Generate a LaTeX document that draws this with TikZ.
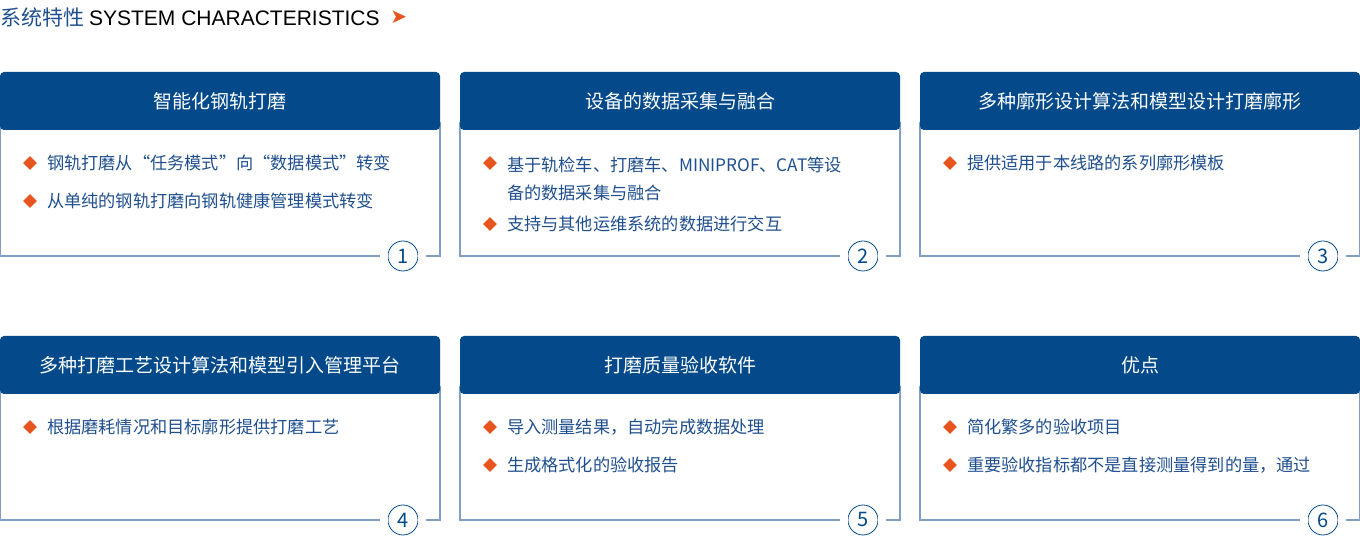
\documentclass[tikz,border=0pt]{standalone}
\usepackage{fontspec}
\setmainfont{Noto Sans CJK SC}
\usepackage{tikz}
\usetikzlibrary{shapes.geometric}
\definecolor{hdblue}{HTML}{044A8A}
\definecolor{txblue}{HTML}{1F4F8E}
\definecolor{lnblue}{HTML}{7F9FC4}
\definecolor{dotorange}{HTML}{E8541E}
\newcommand\itm[4]{\node[dot] (D#1) at (#2+30,#3) {};
  \node[item] (I#1) at (#2+40,#3) {#4};}

\begin{document}
\begin{tikzpicture}[
    x=0.5pt, y=-0.5pt,
    head/.style={fill=hdblue, rounded corners=2pt},
    htext/.style={text=white, font=\fontsize{9.5}{11}\selectfont},
    item/.style={text=txblue, anchor=west, font=\fontsize{8.6}{14}\selectfont, align=left},
    dot/.style={fill=dotorange, diamond, inner sep=0pt, minimum size=7pt},
    num/.style={draw=hdblue, circle, fill=white, minimum size=15pt, inner sep=0pt, text=hdblue, font=\fontsize{10}{10}\selectfont},
    frame/.style={draw=lnblue, line width=0.6pt}
]
\useasboundingbox (0,0) rectangle (1360,560);

% Title
\node[anchor=west, inner sep=0pt, font=\fontsize{10.5}{12}\selectfont] (T) at (0,17)
  {\textcolor{txblue}{系统特性} \fontspec{Liberation Sans}SYSTEM CHARACTERISTICS};
\node[anchor=west, text=dotorange, inner sep=0pt, font=\fontsize{10}{10}\selectfont] (Tar) at ([xshift=5pt]T.east) {\fontspec{DejaVu Sans}➤};

% Cards
\foreach \x/\y/\n/\h in {0/72/1/智能化钢轨打磨, 460/72/2/设备的数据采集与融合, 920/72/3/多种廓形设计算法和模型设计打磨廓形,
  0/336/4/多种打磨工艺设计算法和模型引入管理平台, 460/336/5/打磨质量验收软件, 920/336/6/优点} {
  \draw[frame] (\x,\y+50) -- (\x,\y+184) -- (\x+440,\y+184) -- (\x+440,\y+50);
  \fill[head] (\x,\y) rectangle (\x+440,\y+58);
  \node[htext] (H\n) at (\x+220,\y+29) {\h};
  \node[num] (N\n) at (\x+403,\y+184) {\n};
  \draw[white, line width=3pt] ([xshift=-4pt]N\n.west) -- (N\n.west);
  \draw[white, line width=3pt] (N\n.east) -- ([xshift=4pt]N\n.east);
}

% Items
\itm{a}{0}{163}{钢轨打磨从“任务模式”向“数据模式”转变}
\itm{b}{0}{201}{从单纯的钢轨打磨向钢轨健康管理模式转变}
\node[dot] (Dc) at (490,163) {};
\node[item, anchor=north west] (Ic) at (500,150) {基于轨检车、打磨车、MINIPROF、CAT等设\\备的数据采集与融合};
\itm{d}{460}{224}{支持与其他运维系统的数据进行交互}
\itm{e}{920}{163}{提供适用于本线路的系列廓形模板}
\itm{f}{0}{427}{根据磨耗情况和目标廓形提供打磨工艺}
\itm{g}{460}{427}{导入测量结果，自动完成数据处理}
\itm{h}{460}{465}{生成格式化的验收报告}
\itm{i}{920}{427}{简化繁多的验收项目}
\itm{j}{920}{465}{重要验收指标都不是直接测量得到的量，通过}

\end{tikzpicture}
\end{document}
